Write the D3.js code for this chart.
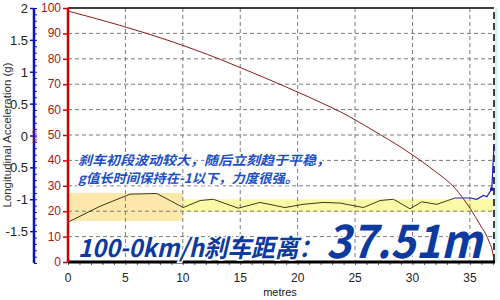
<!DOCTYPE html>
<html>
<head>
<meta charset="utf-8">
<script src="https://cdn.jsdelivr.net/npm/d3@7"></script>
<style>
  body { margin: 0; background: #fff; }
  svg text { font-family: "Liberation Sans", Arial, sans-serif; }
  svg .cjk { font-family: "Noto Sans CJK SC", "Liberation Sans", sans-serif; }
</style>
</head>
<body>
<div id="chart"></div>
<script>
// speed (km/h) against distance (metres)
const speedDist = [0, 4.5, 8.89, 13.24, 15.13, 19.05, 22.82, 23.69, 26.5, 29.36, 31.82, 33.71, 35.02, 35.89, 36.61, 37.05, 37.1];
const speedVal  = [98.8, 93.2, 87.0, 79.8, 76.3, 68.8, 61.1, 59.2, 52.0, 44.1, 36.2, 29.0, 21.1, 14.6, 8.7, 2.1, 0];

// longitudinal acceleration (g)
const accelDist = [0, 2.79, 5.40, 7.73, 10.04, 11.5, 12.66, 14.83, 16.72, 18.9, 20.47, 22.21, 23.69, 25.72, 27.18, 28.34, 29.79, 30.81, 32.12, 33.71];
const accelG    = [-1.36, -1.11, -0.92, -0.91, -1.13, -1.02, -1.00, -1.14, -1.05, -1.13, -1.08, -1.05, -1.06, -1.13, -1.02, -1.00, -1.15, -1.04, -1.08, -0.98];
const endDist = [33.71, 35.02, 35.6, 36.18, 36.47, 36.91, 37.1];
const endG    = [-0.98, -0.98, -1.0, -0.94, -0.96, -0.84, -0.15];

// highlighted bands (g)
const bandFrom = [0, 10];
const bandTo   = [10, 37.1];
const bandHi   = [-0.90, -1.0];
const bandLo   = [-1.34, -1.2];
const bandColor = ['#fce8aa', '#fafaa6'];

const xTicks = [0, 5, 10, 15, 20, 25, 30, 35];
const speedTicks = [0, 10, 20, 30, 40, 50, 60, 70, 80, 90, 100];
const gTicks = [-1.5, -1, -0.5, 0, 0.5, 1, 1.5, 2];

const W = 500, H = 300;
const pLeft = 68, pRight = 494, pTop = 8, pBottom = 262;

const svg = d3.select('#chart').append('svg').attr('width', W).attr('height', H);

const x = d3.scaleLinear().domain([0, 37.1]).range([pLeft, pRight]);
const ySpeed = d3.scaleLinear().domain([0, 100]).range([pBottom, pTop]);
const yG = d3.scaleLinear().domain([-2, 2]).range([pBottom + 1, pTop]);

// bands
svg.selectAll('rect.band')
  .data(bandFrom)
  .join('rect')
  .attr('x', (d, i) => x(d))
  .attr('width', (d, i) => x(bandTo[i]) - x(d))
  .attr('y', (d, i) => yG(bandHi[i]))
  .attr('height', (d, i) => yG(bandLo[i]) - yG(bandHi[i]))
  .style('fill', (d, i) => bandColor[i]);

// grid
svg.selectAll('line.hgrid')
  .data(speedTicks.filter(d => d > 0 && d < 100))
  .join('line')
  .attr('x1', pLeft).attr('x2', pRight)
  .attr('y1', d => ySpeed(d)).attr('y2', d => ySpeed(d))
  .style('stroke', '#7a7a7a').style('stroke-dasharray', '4,3');
svg.selectAll('line.vgrid')
  .data(xTicks.filter(d => d > 0))
  .join('line')
  .attr('y1', pTop).attr('y2', pBottom)
  .attr('x1', d => x(d)).attr('x2', d => x(d))
  .style('stroke', '#7a7a7a').style('stroke-dasharray', '4,3');

// frame
svg.append('line').attr('x1', pLeft).attr('x2', pRight).attr('y1', pTop).attr('y2', pTop)
  .style('stroke', '#000').style('stroke-width', 1.5);
svg.append('line').attr('x1', pRight + 2).attr('x2', pRight + 2).attr('y1', pTop).attr('y2', pBottom)
  .style('stroke', '#c8f4f4').style('stroke-width', 2);
svg.append('line').attr('x1', pRight).attr('x2', pRight).attr('y1', pTop + 4).attr('y2', pBottom)
  .style('stroke', '#000').style('stroke-width', 1.5).style('stroke-dasharray', '7,4');

// speed line
const speedLine = d3.line().x((d, i) => x(speedDist[i])).y(d => ySpeed(d)).curve(d3.curveMonotoneX);
svg.append('path').attr('d', speedLine(speedVal))
  .style('fill', 'none').style('stroke', '#8b1c1c').style('stroke-width', 1);

// acceleration line
const accLine = d3.line().x((d, i) => x(accelDist[i])).y(d => yG(d));
svg.append('path').attr('d', accLine(accelG))
  .style('fill', 'none').style('stroke', '#3a3a20').style('stroke-width', 1);
const endLine = d3.line().x((d, i) => x(endDist[i])).y(d => yG(d));
svg.append('path').attr('d', endLine(endG))
  .style('fill', 'none').style('stroke', '#1c20b8').style('stroke-width', 1.2);
svg.append('circle').attr('cx', x(endDist[5])).attr('cy', yG(endG[5])).attr('r', 2)
  .style('fill', '#1c20b8');

// x axis
const xAxis = svg.append('g').attr('transform', `translate(0,${pBottom})`);
xAxis.call(d3.axisBottom(x).tickValues(d3.range(0, 38, 1)).tickSize(3).tickFormat(''));
xAxis.select('.domain').remove();
xAxis.selectAll('line').style('stroke', '#555');
svg.append('line').attr('x1', pLeft).attr('x2', pRight + 1).attr('y1', pBottom).attr('y2', pBottom)
  .style('stroke', '#000').style('stroke-width', 3);
svg.selectAll('text.xlab')
  .data(xTicks)
  .join('text')
  .attr('x', d => x(d)).attr('y', 282)
  .attr('text-anchor', 'middle')
  .style('font-size', '12px').style('fill', '#222')
  .text(d => d);
svg.append('text').attr('x', 280).attr('y', 296).attr('text-anchor', 'middle')
  .style('font-size', '11px').style('fill', '#222').text('metres');

// speed axis (red)
const sAxis = svg.append('g').attr('transform', `translate(${pLeft},0)`);
sAxis.call(d3.axisLeft(ySpeed).tickValues(speedTicks).tickSize(5).tickFormat(''));
sAxis.select('.domain').remove();
sAxis.selectAll('line').style('stroke', '#d40000').style('stroke-width', 1.5);
svg.append('line').attr('x1', pLeft).attr('x2', pLeft).attr('y1', pTop).attr('y2', pBottom)
  .style('stroke', '#d40000').style('stroke-width', 2.5);
svg.selectAll('text.slab')
  .data(speedTicks)
  .join('text')
  .attr('x', pLeft - 7).attr('y', d => ySpeed(d) + 4)
  .attr('text-anchor', 'end')
  .style('font-size', '12px').style('fill', '#a01818')
  .text(d => d);

// acceleration axis (blue)
const gx = 34;
const gAxis = svg.append('g').attr('transform', `translate(${gx},0)`);
gAxis.call(d3.axisLeft(yG).tickValues(gTicks).tickSize(4).tickFormat(''));
gAxis.select('.domain').remove();
gAxis.selectAll('line').style('stroke', '#1010c0').style('stroke-width', 1.5);
const gMinor = svg.append('g').attr('transform', `translate(${gx},0)`);
gMinor.call(d3.axisRight(yG).tickValues(d3.range(-20, 21).map(d => d / 10)).tickSize(3).tickFormat(''));
gMinor.select('.domain').remove();
gMinor.selectAll('line').style('stroke', '#1010c0');
svg.append('line').attr('x1', gx).attr('x2', gx).attr('y1', pTop).attr('y2', pBottom + 1)
  .style('stroke', '#1010c0').style('stroke-width', 2.5);
svg.selectAll('text.glab')
  .data(gTicks)
  .join('text')
  .attr('x', gx - 6).attr('y', d => yG(d) + 5)
  .attr('text-anchor', 'end')
  .style('font-size', '13px').style('fill', '#222')
  .text(d => d);

svg.append('text')
  .attr('transform', `translate(11,${(pTop + pBottom) / 2}) rotate(-90)`)
  .attr('text-anchor', 'middle')
  .style('font-size', '11.5px').style('fill', '#333')
  .text('Longitudinal Acceleration (g)');
svg.append('text')
  .attr('transform', `translate(37,136) rotate(-90)`)
  .attr('text-anchor', 'middle')
  .style('font-size', '7px').style('fill', '#8a2060')
  .text('km/h');

// annotations
const note = svg.append('g')
  .style('font-weight', 'bold').style('font-style', 'italic')
  .style('fill', '#1c4ec4')
  .style('stroke', '#fff').style('stroke-width', 3).style('paint-order', 'stroke')
  .style('stroke-linejoin', 'round');
note.append('text').attr('class', 'cjk').attr('x', 78).attr('y', 165)
  .attr('textLength', 252).attr('lengthAdjust', 'spacingAndGlyphs')
  .style('font-size', '13px').text('刹车初段波动较大，随后立刻趋于平稳，');
note.append('text').attr('class', 'cjk').attr('x', 78).attr('y', 183)
  .attr('textLength', 220).attr('lengthAdjust', 'spacingAndGlyphs')
  .style('font-size', '13px').text('g值长时间保持在-1以下，力度很强。');

const big = svg.append('g').attr('class', 'cjk')
  .style('font-weight', 'bold').style('font-style', 'italic')
  .style('fill', '#0c3a9e')
  .style('stroke', '#fff').style('stroke-width', 3).style('paint-order', 'stroke');
big.append('text').attr('class', 'cjk').attr('x', 78).attr('y', 257)
  .attr('textLength', 244).attr('lengthAdjust', 'spacingAndGlyphs')
  .style('font-size', '25px').text('100-0km/h刹车距离：');
big.append('text').attr('class', 'cjk').attr('x', 326).attr('y', 258)
  .attr('textLength', 156).attr('lengthAdjust', 'spacingAndGlyphs')
  .style('font-size', '46px').text('37.51m');
</script>
</body>
</html>
